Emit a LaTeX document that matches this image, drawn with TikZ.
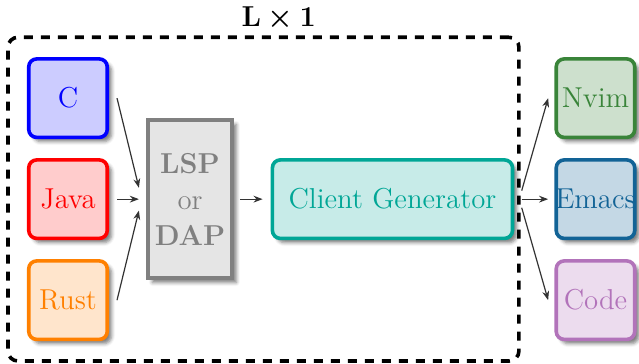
\documentclass[tikz,border=0pt]{standalone}
\usepackage{bm}
\usepackage{xcolor}
\usepackage{tikz}
\usetikzlibrary{positioning,arrows.meta,shadows.blur}
\definecolor{gentealc}{RGB}{0,166,150}
\definecolor{nvimgreen}{RGB}{57,132,57}
\definecolor{emacsblue}{RGB}{18,99,150}
\definecolor{codepurple}{RGB}{178,115,186}

\begin{document}
\begin{tikzpicture}[
    box/.style={rectangle,draw,line width=1.8pt,rounded corners=4pt,minimum size=1.38cm,
                font=\Large,align=center,blur shadow={shadow opacity=50}},
    lang/.style={box,draw=#1,fill=#1!20,text=#1},
    editor/.style={box,draw=#1,fill=#1!25,text=#1,inner sep=0pt},
    proto/.style={rectangle,draw=gray,line width=1.8pt,fill=gray!20,text=gray,font=\Large,
                  minimum width=1.4cm,minimum height=2.78cm,align=center,
                  blur shadow={shadow opacity=50}},
    group/.style={rectangle,draw,line width=1.8pt,dash pattern=on 4.5pt off 4pt,
                  rounded corners=5pt,minimum width=8.98cm,minimum height=5.69cm},
    arrow/.style={-{Stealth[length=1.6mm]},black!80,semithick}
]
\useasboundingbox (0,-2.88) rectangle (11.23,3.50);

\node[lang=blue]   (c)    at (1.195,1.775)  {C};
\node[lang=red]    (java) at (1.195,0)      {Java};
\node[lang=orange] (rust) at (1.195,-1.775) {Rust};
\node[proto]       (lsp)  at (3.34,0)       {\textbf{LSP}\\or\\\textbf{DAP}};
\node[box,draw=gentealc,fill=gentealc!22,text=gentealc,minimum width=4.22cm]
                   (gen)  at (6.897,0)      {Client Generator};
\node[editor=nvimgreen]  (nvim)  at (10.465,1.775)  {Nvim};
\node[editor=emacsblue]  (emacs) at (10.465,0)      {\makebox[1.3cm]{Emacs}};
\node[editor=codepurple] (code)  at (10.465,-1.775) {Code};

\draw[arrow] ([xshift=1.4mm]c.east) -- ([xshift=-1.3mm,yshift=2mm]lsp.west);
\draw[arrow] ([xshift=1.4mm]java.east) -- ([xshift=-1.3mm]lsp.west);
\draw[arrow] ([xshift=1.4mm]rust.east) -- ([xshift=-1.3mm,yshift=-2mm]lsp.west);
\draw[arrow] ([xshift=1.1mm]lsp.east) -- ([xshift=-1.4mm]gen.west);
\draw[arrow] ([xshift=1.3mm,yshift=1.5mm]gen.east) -- ([xshift=-1.1mm]nvim.west);
\draw[arrow] ([xshift=1.3mm]gen.east) -- ([xshift=-1.1mm]emacs.west);
\draw[arrow] ([xshift=1.3mm,yshift=-1.5mm]gen.east) -- ([xshift=-1.1mm]code.west);

\node[group] (stack) at (4.63,0) {};
\node[font=\Large] (title) at (4.90,3.18) {$\mathbf{L}\bm{\times}\mathbf{1}$};
\end{tikzpicture}
\end{document}
